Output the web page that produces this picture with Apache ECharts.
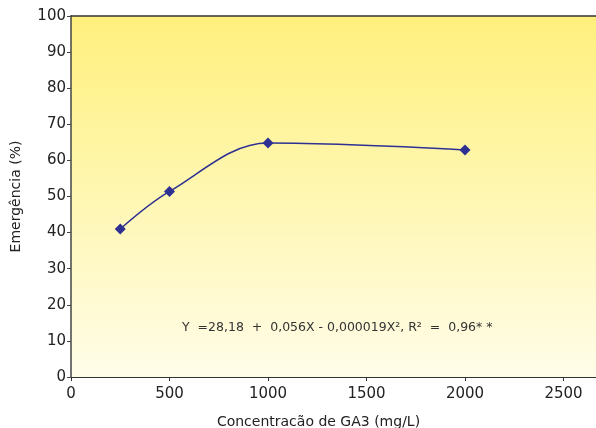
<!DOCTYPE html>
<html><head><meta charset="utf-8">
<script src="https://cdn.jsdelivr.net/npm/echarts@6/dist/echarts.min.js"></script>
<style>html,body{margin:0;padding:0;background:#fff}#c{width:596px;height:428px}</style>
</head><body><div id="c"></div>
<script>
const concentrations = [250, 500, 1000, 2000];
const emergence = [41.0, 51.4, 64.8, 62.9];
const xTicks = [0, 500, 1000, 1500, 2000, 2500];
const yTicks = [0, 10, 20, 30, 40, 50, 60, 70, 80, 90, 100];
const equation = 'Y  =28,18  +  0,056X - 0,000019X², R²  =  0,96* *';

const chart = echarts.init(document.getElementById('c'));
const font = '"DejaVu Sans", sans-serif';
chart.setOption({
  animation: false,
  grid: {
    left: 71, right: 0, top: 16, bottom: 51,
    outerBoundsMode: 'none', containLabel: false,
    show: true, borderWidth: 0,
    backgroundColor: new echarts.graphic.LinearGradient(0, 0, 0, 1, [
      {offset: 0, color: '#FFF07C'},
      {offset: 1, color: '#FFFDE9'}
    ])
  },
  xAxis: [{
    type: 'value', min: 0, max: 2665, interval: 500,
    axisLine: {lineStyle: {color: '#333', width: 1.2}},
    axisTick: {show: true, length: 4, lineStyle: {color: '#333'}},
    axisLabel: {showMaxLabel: false, color: '#222', fontSize: 15, fontFamily: font, margin: 10,
      formatter: v => xTicks.includes(v) ? String(v) : ''},
    splitLine: {show: false},
    name: 'Concentracão de GA3 (mg/L)', nameLocation: 'middle', nameGap: 38,
    nameTextStyle: {color: '#222', fontSize: 14, fontFamily: font, padding: [0, 30, 0, 0]}
  }, {
    type: 'value', position: 'top', min: 0, max: 2665,
    axisLine: {show: true, onZero: false, lineStyle: {color: '#333', width: 1.5}},
    axisTick: {show: false}, axisLabel: {show: false}, splitLine: {show: false}
  }],
  yAxis: {
    type: 'value', min: 0, max: 100, interval: 10,
    axisLine: {show: true, lineStyle: {color: '#444', width: 1.5}},
    axisTick: {show: true, length: 4, lineStyle: {color: '#444'}},
    axisLabel: {color: '#222', fontSize: 15, fontFamily: font, margin: 5,
      formatter: v => yTicks.includes(v) ? String(v) : ''},
    splitLine: {show: false},
    name: 'Emergência (%)', nameLocation: 'middle', nameGap: 48, nameRotate: 90,
    nameTextStyle: {color: '#222', fontSize: 14, fontFamily: font}
  },
  series: [{
    type: 'line', smooth: 0.35,
    data: concentrations.map((c, i) => [c, emergence[i]]),
    symbol: 'diamond', symbolSize: 11,
    lineStyle: {color: '#2E3192', width: 1.5},
    itemStyle: {color: '#2E3192'}
  }],
  graphic: [{
    type: 'text', left: 182, top: 321,
    style: {text: equation, fill: '#333', fontSize: 12.5, fontFamily: font}
  }]
});
</script></body></html>
